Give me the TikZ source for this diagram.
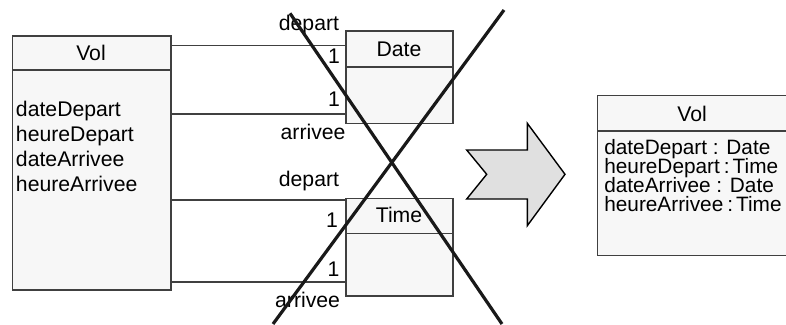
\documentclass[tikz,border=0pt]{standalone}
\usepackage{fontspec}
\setmainfont{Liberation Sans}
\begin{document}
\begin{tikzpicture}[x=1pt,y=-1pt,
  every node/.style={inner sep=0pt,outer sep=0pt,font=\fontsize{21.2}{25}\selectfont},
  boxpart/.style={draw=black!75,fill=black!3,line width=1.5pt,anchor=north west},
  conn/.style={draw=black!75,line width=1.5pt},
  lbl/.style={anchor=base east},
  attr/.style={anchor=base west},
  attrr/.style={anchor=base west,font=\fontsize{20.8}{25}\selectfont},
  cross/.style={draw=black!90,line width=3.2pt},
  bigarrow/.style={draw=black,fill=black!12,line width=1.4pt,line join=miter}]
\useasboundingbox (0,0) rectangle (786,324);
% left Vol class
\node[boxpart,minimum width=158.7pt,minimum height=34pt] (volhead) at (12.3,36) {};
\node[boxpart,minimum width=158.7pt,minimum height=220pt] (volbody) at (12.3,70) {};
\node[anchor=base] (voltitle) at (91,60.5) {Vol};
\node[attr] (a1) at (16,116.5) {dateDepart};
\node[attr] (a2) at (16,141.5) {heureDepart};
\node[attr] (a3) at (16,166.5) {dateArrivee};
\node[attr] (a4) at (16,191.5) {heureArrivee};
% Date class
\node[boxpart,minimum width=107pt,minimum height=36pt] (datehead) at (346,31) {};
\node[boxpart,minimum width=107pt,minimum height=56.3pt] (datebody) at (346,67) {};
\node[anchor=base] (datetitle) at (399,56.5) {Date};
% Time class
\node[boxpart,minimum width=107pt,minimum height=34.6pt] (timehead) at (346,198.7) {};
\node[boxpart,minimum width=107pt,minimum height=62.7pt] (timebody) at (346,233.3) {};
\node[anchor=base] (timetitle) at (399,222.5) {Time};
% connectors
\coordinate (c1a) at (volhead.east |- 0,45.7);
\coordinate (c1b) at (datehead.west |- 0,45.7);
\coordinate (c2a) at (volbody.east |- 0,114);
\coordinate (c2b) at (datebody.west |- 0,114);
\coordinate (c3a) at (volbody.east |- 0,200);
\coordinate (c3b) at (timehead.west |- 0,200);
\coordinate (c4a) at (volbody.east |- 0,282);
\coordinate (c4b) at (timebody.west |- 0,282);
\draw[conn] (c1a) -- (c1b);
\draw[conn] (c2a) -- (c2b);
\draw[conn] (c3a) -- (c3b);
\draw[conn] (c4a) -- (c4b);
% role labels
\node[lbl] (r1) at (339,30) {depart};
\node[lbl] (m1) at (340,63.3) {1};
\node[lbl] (m2) at (340,106.5) {1};
\node[lbl] (r2) at (345.5,139.3) {arrivee};
\node[lbl] (r3) at (339,186) {depart};
\node[lbl] (m3) at (338,227.5) {1};
\node[lbl] (m4) at (339.5,276) {1};
\node[lbl] (r4) at (340,307.3) {arrivee};
% cross
\coordinate (x1a) at (290,13.3);
\coordinate (x1b) at (502,324);
\coordinate (x2a) at (273,324);
\coordinate (x2b) at (504,10);
\draw[cross] (x1a) -- (x1b);
\draw[cross] (x2a) -- (x2b);
% big arrow
\draw[bigarrow] (466.7,150) -- (527.3,150) -- (527.3,123.3) -- (565,174.3)
  -- (527.3,225.7) -- (527.3,199) -- (466.7,199) -- (486.7,174.3) -- cycle;
% right Vol class
\node[boxpart,minimum width=195pt,minimum height=35.3pt] (vol2head) at (597.5,95.7) {};
\node[boxpart,minimum width=195pt,minimum height=124.7pt] (vol2body) at (597.5,131) {};
\node[anchor=base] (vol2title) at (692,121.5) {Vol};
\node[attrr] (b1) at (604.3,154) {dateDepart : Date};
\node[attrr] (b2) at (604.3,173.3) {heureDepart\hspace{4pt}:\hspace{3pt}Time};
\node[attrr] (b3) at (604.3,192.4) {dateArrivee : Date};
\node[attrr] (b4) at (604.3,211.6) {heureArrivee\hspace{4pt}:\hspace{3pt}Time};
\end{tikzpicture}
\end{document}
